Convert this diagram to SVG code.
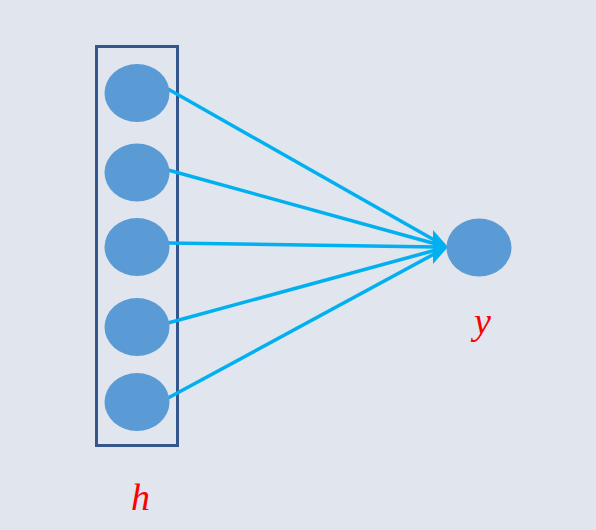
<svg xmlns="http://www.w3.org/2000/svg" width="596" height="530" viewBox="0 0 596 530">
<style>
.n{fill:#5B9BD5}
.c line{stroke:#00B0F0;stroke-width:3.5;stroke-linecap:butt}
.lbl{font-family:"Liberation Serif",serif;font-style:italic;font-size:38px;fill:#FF0000}
</style>
<rect width="596" height="530" fill="#E1E5ED"/>
<g id="box"><rect x="96.5" y="46.5" width="81" height="399" fill="none" stroke="#35558F" stroke-width="3"/></g>
<g id="connectors" class="c">
<line x1="168" y1="89" x2="436" y2="241"/>
<line x1="168" y1="170" x2="436" y2="244"/>
<line x1="168" y1="243" x2="436" y2="247"/>
<line x1="168" y1="323" x2="436" y2="250"/>
<line x1="168" y1="398" x2="436" y2="253"/>
<polygon points="448,247 433,230 433,264" fill="#00B0F0"/>
</g>
<g id="h1"><ellipse class="n" cx="137" cy="93" rx="32.5" ry="29"/></g>
<g id="h2"><ellipse class="n" cx="137" cy="172.5" rx="32.5" ry="29"/></g>
<g id="h3"><ellipse class="n" cx="137" cy="247" rx="32.5" ry="29"/></g>
<g id="h4"><ellipse class="n" cx="137" cy="327" rx="32.5" ry="29"/></g>
<g id="h5"><ellipse class="n" cx="137" cy="402" rx="32.5" ry="29"/></g>
<g id="y"><ellipse class="n" cx="479" cy="247.5" rx="32.5" ry="29"/></g>
<text class="lbl" x="131" y="510">h</text>
<text class="lbl" x="474" y="334">y</text>
</svg>
